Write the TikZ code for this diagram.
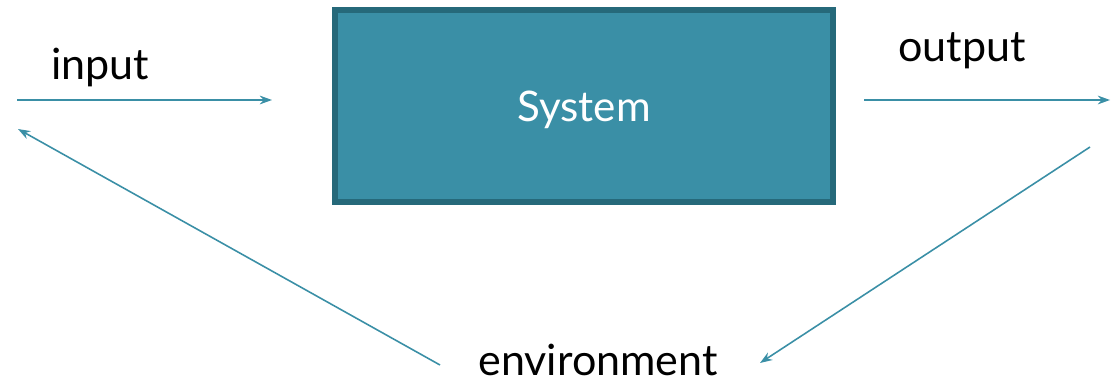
\documentclass[tikz,border=0pt]{standalone}
\usepackage{fontspec}
\setmainfont{Lato}
\usetikzlibrary{positioning,arrows.meta,calc}
\definecolor{teal1}{HTML}{3A8FA6}
\definecolor{teal2}{HTML}{26697A}
\tikzset{>={Stealth[length=7pt,width=5pt]}}

\begin{document}
\begin{tikzpicture}[x=0.02cm, y=-0.02cm,
    flow/.style={->, draw=teal1, line width=0.9pt},
    word/.style={font=\fontsize{24.5}{27}\selectfont, text=black, inner sep=0pt}]
        \useasboundingbox (0,0) rectangle (1111,385);
        \node[draw=teal2, fill=teal1, line width=3pt, minimum width=498*0.02cm, minimum height=192*0.02cm,
              text=white, font=\fontsize{24}{27}\selectfont] (sys) at (584,106) {};
        \node[text=white, font=\fontsize{24}{27}\selectfont] (systxt) at (584,110) {System};
        \node[word, anchor=base] (in) at (100,80) {input};
        \node[word, anchor=base] (out) at (962,62) {output};
        \node[word, anchor=base] (env) at (598,375) {environment};
        % free ends
        \coordinate (inA) at (17,100);
        \coordinate (inB) at (272,100);
        \coordinate (outA) at (864,100);
        \coordinate (outB) at (1110,100);
        \coordinate (backL) at (18,129);
        \coordinate (backR) at (1090,147);
        \coordinate (envL) at (440,365);
        \coordinate (envR) at (760,363);
        \draw[flow] (inA) -- (inB);
        \draw[flow] (outA) -- (outB);
        \draw[flow] (envL) -- (backL);
        \draw[flow] (backR) -- (envR);
\end{tikzpicture}
\end{document}
